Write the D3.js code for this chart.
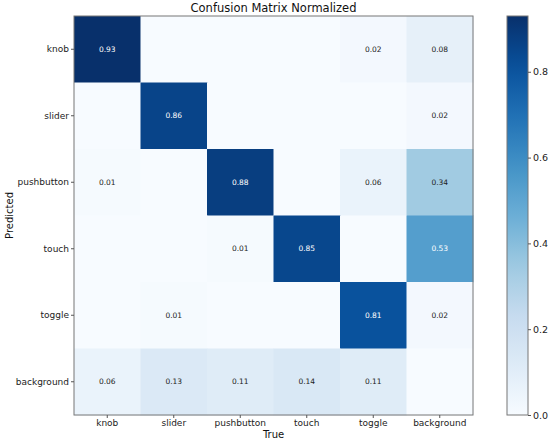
<!DOCTYPE html>
<html>
<head>
<meta charset="utf-8">
<script src="https://cdn.jsdelivr.net/npm/d3@7"></script>
<style>
  body { margin: 0; background: #fff; }
  text { font-family: "DejaVu Sans", sans-serif; }
</style>
</head>
<body>
<div id="chart"></div>
<script>
// labels for both axes (rows = predicted, columns = true)
var classes = ["knob", "slider", "pushbutton", "touch", "toggle", "background"];

// normalized values, one array per predicted row
var knobRow = [0.93, 0, 0, 0, 0.02, 0.08];
var sliderRow = [0, 0.86, 0, 0, 0, 0.02];
var pushbuttonRow = [0.01, 0, 0.88, 0, 0.06, 0.34];
var touchRow = [0, 0, 0.01, 0.85, 0, 0.53];
var toggleRow = [0, 0.01, 0, 0, 0.81, 0.02];
var backgroundRow = [0.06, 0.13, 0.11, 0.14, 0.11, 0];
var rows = [knobRow, sliderRow, pushbuttonRow, touchRow, toggleRow, backgroundRow];

var colorTicks = [0.0, 0.2, 0.4, 0.6, 0.8];

var svgWidth = 550;
var svgHeight = 443;
var margin = {top: 16, left: 74};
var size = 399;

var svg = d3.select("#chart").append("svg")
  .attr("width", svgWidth).attr("height", svgHeight);

var cells = [];
rows.forEach(function(r, i) {
  r.forEach(function(v, j) {
    cells.push({row: classes[i], col: classes[j], value: v});
  });
});

var vmax = d3.max(cells, d => d.value);
var color = d3.scaleSequential(d3.piecewise(d3.interpolateRgb, d3.schemeBlues[9]))
  .domain([0, vmax]);

var x = d3.scaleBand().domain(classes).range([0, size]);
var y = d3.scaleBand().domain(classes).range([0, size]);

var g = svg.append("g").attr("transform", `translate(${margin.left}, ${margin.top})`);

g.selectAll("rect.cell")
  .data(cells)
  .enter()
  .append("rect")
  .attr("class", "cell")
  .attr("x", d => x(d.col))
  .attr("y", d => y(d.row))
  .attr("width", x.bandwidth() + 0.5)
  .attr("height", y.bandwidth() + 0.5)
  .attr("fill", d => color(d.value));

// only nonzero cells get a number
g.selectAll("text.val")
  .data(cells.filter(d => d.value > 0))
  .enter()
  .append("text")
  .attr("class", "val")
  .attr("x", d => x(d.col) + x.bandwidth() / 2)
  .attr("y", d => y(d.row) + y.bandwidth() / 2)
  .attr("text-anchor", "middle")
  .attr("dy", "0.35em")
  .attr("font-size", "7.5px")
  .attr("fill", d => d.value > vmax / 2 ? "#fff" : "#222")
  .text(d => d.value.toFixed(2));

g.append("rect")
  .attr("width", size).attr("height", size)
  .attr("fill", "none").attr("stroke", "#777").attr("stroke-width", 1);

// axes
var xAxis = g.append("g")
  .attr("transform", `translate(0, ${size})`)
  .call(d3.axisBottom(x).tickSize(3).tickPadding(2));
var yAxis = g.append("g")
  .call(d3.axisLeft(y).tickSize(3).tickPadding(2));
[xAxis, yAxis].forEach(function(a) {
  a.select(".domain").remove();
  a.selectAll("line").attr("stroke", "#555");
  a.selectAll("text").attr("font-size", "9px").attr("fill", "#222")
    .attr("font-family", "DejaVu Sans, sans-serif");
});

svg.append("text")
  .attr("x", margin.left + size / 2).attr("y", 12)
  .attr("text-anchor", "middle").attr("font-size", "11.5px").attr("fill", "#111")
  .text("Confusion Matrix Normalized");

svg.append("text")
  .attr("x", margin.left + size / 2).attr("y", 438)
  .attr("text-anchor", "middle").attr("font-size", "10px").attr("fill", "#111")
  .text("True");

svg.append("text")
  .attr("transform", `translate(13, ${margin.top + size / 2}) rotate(-90)`)
  .attr("text-anchor", "middle").attr("font-size", "10px").attr("fill", "#111")
  .text("Predicted");

// colorbar
var cbX = 507, cbW = 21;
var cbScale = d3.scaleLinear().domain([0, vmax]).range([margin.top + size, margin.top]);
var defs = svg.append("defs");
var grad = defs.append("linearGradient").attr("id", "cbgrad")
  .attr("x1", 0).attr("y1", 1).attr("x2", 0).attr("y2", 0);
d3.range(0, 1.0001, 0.05).forEach(function(t) {
  grad.append("stop").attr("offset", t).attr("stop-color", color(t * vmax));
});
svg.append("rect")
  .attr("x", cbX).attr("y", margin.top).attr("width", cbW).attr("height", size)
  .attr("fill", "url(#cbgrad)").attr("stroke", "#777").attr("stroke-width", 1);
var cbAxis = svg.append("g")
  .attr("transform", `translate(${cbX + cbW}, 0)`)
  .call(d3.axisRight(cbScale).tickValues(colorTicks).tickFormat(d3.format(".1f")).tickSize(3).tickPadding(2));
cbAxis.select(".domain").remove();
cbAxis.selectAll("line").attr("stroke", "#555");
cbAxis.selectAll("text").attr("font-size", "9.5px").attr("fill", "#222")
  .attr("font-family", "DejaVu Sans, sans-serif");
</script>
</body>
</html>
